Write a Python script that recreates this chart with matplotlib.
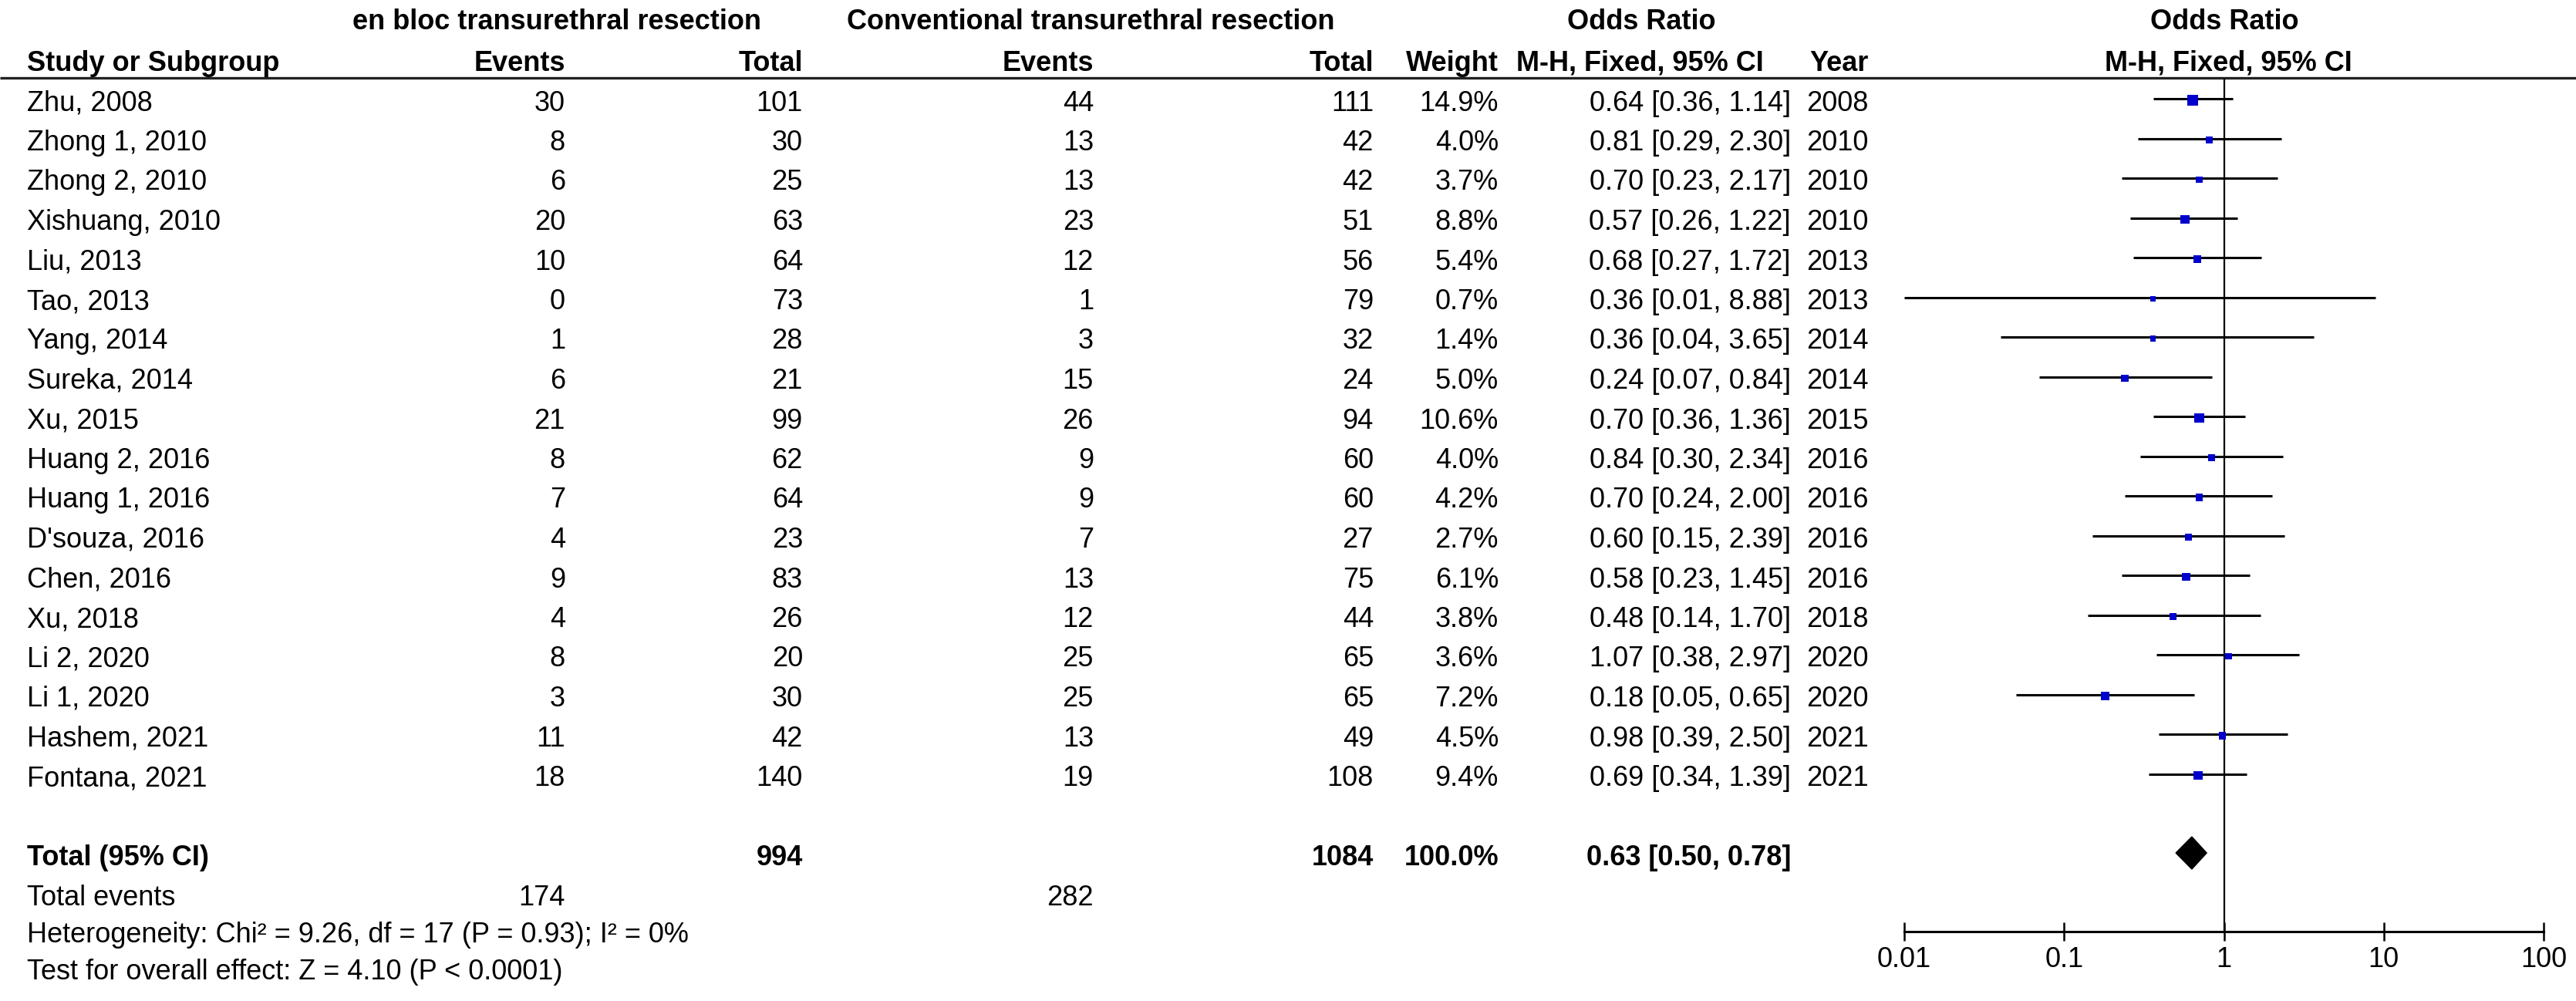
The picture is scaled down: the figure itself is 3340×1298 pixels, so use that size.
import numpy as np
import matplotlib
matplotlib.use("Agg")
import matplotlib.pyplot as plt
from matplotlib.ticker import NullLocator

plt.rcParams['font.family'] = ['Liberation Sans', 'DejaVu Sans']

studies = ["Zhu, 2008", "Zhong 1, 2010", "Zhong 2, 2010", "Xishuang, 2010", "Liu, 2013",
           "Tao, 2013", "Yang, 2014", "Sureka, 2014", "Xu, 2015", "Huang 2, 2016",
           "Huang 1, 2016", "D'souza, 2016", "Chen, 2016", "Xu, 2018", "Li 2, 2020",
           "Li 1, 2020", "Hashem, 2021", "Fontana, 2021"]
ev_enbloc = [30, 8, 6, 20, 10, 0, 1, 6, 21, 8, 7, 4, 9, 4, 8, 3, 11, 18]
tot_enbloc = [101, 30, 25, 63, 64, 73, 28, 21, 99, 62, 64, 23, 83, 26, 20, 30, 42, 140]
ev_conv = [44, 13, 13, 23, 12, 1, 3, 15, 26, 9, 9, 7, 13, 12, 25, 25, 13, 19]
tot_conv = [111, 42, 42, 51, 56, 79, 32, 24, 94, 60, 60, 27, 75, 44, 65, 65, 49, 108]
weights = [14.9, 4.0, 3.7, 8.8, 5.4, 0.7, 1.4, 5.0, 10.6, 4.0, 4.2, 2.7, 6.1, 3.8, 3.6, 7.2, 4.5, 9.4]
odds = [0.64, 0.81, 0.70, 0.57, 0.68, 0.36, 0.36, 0.24, 0.70, 0.84, 0.70, 0.60, 0.58, 0.48, 1.07, 0.18, 0.98, 0.69]
ci_low = [0.36, 0.29, 0.23, 0.26, 0.27, 0.01, 0.04, 0.07, 0.36, 0.30, 0.24, 0.15, 0.23, 0.14, 0.38, 0.05, 0.39, 0.34]
ci_high = [1.14, 2.30, 2.17, 1.22, 1.72, 8.88, 3.65, 0.84, 1.36, 2.34, 2.00, 2.39, 1.45, 1.70, 2.97, 0.65, 2.50, 1.39]
years = [2008, 2010, 2010, 2010, 2013, 2013, 2014, 2014, 2015, 2016, 2016, 2016, 2016, 2018, 2020, 2020, 2021, 2021]

total_enbloc, total_conv = 994, 1084
events_enbloc, events_conv = 174, 282
pooled_or, pooled_low, pooled_high = 0.63, 0.50, 0.78
heterogeneity = "Heterogeneity: Chi\u00b2 = 9.26, df = 17 (P = 0.93); I\u00b2 = 0%"
overall = "Test for overall effect: Z = 4.10 (P < 0.0001)"
ticks = [0.01, 0.1, 1, 10, 100]

W, H = 3341, 1298
fig = plt.figure(figsize=(W / 100, H / 100), dpi=100)

# text layer in pixel coordinates
ax = fig.add_axes([0, 0, 1, 1])
ax.set_xlim(0, W)
ax.set_ylim(H, 0)
ax.axis("off")

# forest plot layer, log x, same y pixels
x0, x1 = 2469, 3298
axf = fig.add_axes([x0 / W, 0, (x1 - x0) / W, 1])
axf.set_xscale("log")
axf.set_xlim(0.01, 100)
axf.set_ylim(H, 0)
axf.patch.set_visible(False)
for s in ["top", "left", "right"]:
    axf.spines[s].set_visible(False)

fs = 26
hy1, hy2 = 28, 82
bold = dict(fontsize=fs, fontweight="bold", va="center")
ax.text(722, hy1, "en bloc transurethral resection", ha="center", **bold)
ax.text(1414, hy1, "Conventional transurethral resection", ha="center", **bold)
ax.text(2128, hy1, "Odds Ratio", ha="center", **bold)
ax.text(2884, hy1, "Odds Ratio", ha="center", **bold)
ax.text(35, hy2, "Study or Subgroup", ha="left", **bold)
ax.text(733, hy2, "Events", ha="right", **bold)
ax.text(1041, hy2, "Total", ha="right", **bold)
ax.text(1418, hy2, "Events", ha="right", **bold)
ax.text(1781, hy2, "Total", ha="right", **bold)
ax.text(1943, hy2, "Weight", ha="right", **bold)
ax.text(1966, hy2, "M-H, Fixed, 95% CI", ha="left", **bold)
ax.text(2423, hy2, "Year", ha="right", **bold)
ax.text(2889, hy2, "M-H, Fixed, 95% CI", ha="center", **bold)
ax.plot([0, W], [101, 101], color="#222222", lw=2.4, solid_capstyle="butt")

row_y = 128 + 51.5 * np.arange(len(studies))
norm = dict(fontsize=fs, va="center")
for i, y in enumerate(row_y):
    ty = y + 6
    ax.text(35, ty, studies[i], ha="left", **norm)
    ax.text(733, ty, str(ev_enbloc[i]), ha="right", **norm)
    ax.text(1041, ty, str(tot_enbloc[i]), ha="right", **norm)
    ax.text(1418, ty, str(ev_conv[i]), ha="right", **norm)
    ax.text(1781, ty, str(tot_conv[i]), ha="right", **norm)
    ax.text(1943, ty, f"{weights[i]:.1f}%", ha="right", **norm)
    ax.text(2322, ty, f"{odds[i]:.2f} [{ci_low[i]:.2f}, {ci_high[i]:.2f}]", ha="right", **norm)
    ax.text(2423, ty, str(years[i]), ha="right", **norm)

# CI lines and weighted squares
axf.hlines(row_y, ci_low, ci_high, color="black", lw=2.2)
side_px = 4 + 10 * np.sqrt(np.array(weights) / max(weights))
axf.scatter(odds, row_y + 2, s=(side_px * 0.72) ** 2, marker="s", color="#0000CC",
            zorder=3, linewidths=0)

# totals
ty = 1112
ax.text(35, ty, "Total (95% CI)", ha="left", **bold)
ax.text(1041, ty, str(total_enbloc), ha="right", **bold)
ax.text(1781, ty, str(total_conv), ha="right", **bold)
ax.text(1943, ty, "100.0%", ha="right", **bold)
ax.text(2322, ty, f"{pooled_or:.2f} [{pooled_low:.2f}, {pooled_high:.2f}]", ha="right", **bold)
dy = 1106
axf.fill([pooled_low, pooled_or, pooled_high, pooled_or], [dy, dy - 21, dy, dy + 21],
         color="black", zorder=3)

ax.text(35, 1164, "Total events", ha="left", **norm)
ax.text(733, 1164, str(events_enbloc), ha="right", **norm)
ax.text(1418, 1164, str(events_conv), ha="right", **norm)
ax.text(35, 1213, heterogeneity, ha="left", **norm)
ax.text(35, 1261, overall, ha="left", **norm)

# null line and axis
axf.vlines(1, 102, 1208, color="black", lw=1.6)
axf.spines["bottom"].set_position(("data", 1208))
axf.spines["bottom"].set_linewidth(2.2)
axf.set_xticks(ticks)
axf.set_xticklabels([f"{t:g}" for t in ticks])
axf.xaxis.set_minor_locator(NullLocator())
axf.tick_params(axis="x", direction="inout", length=17, width=1.8, labelsize=fs, pad=5)
axf.set_yticks([])

fig.savefig("out.png", dpi=100)
